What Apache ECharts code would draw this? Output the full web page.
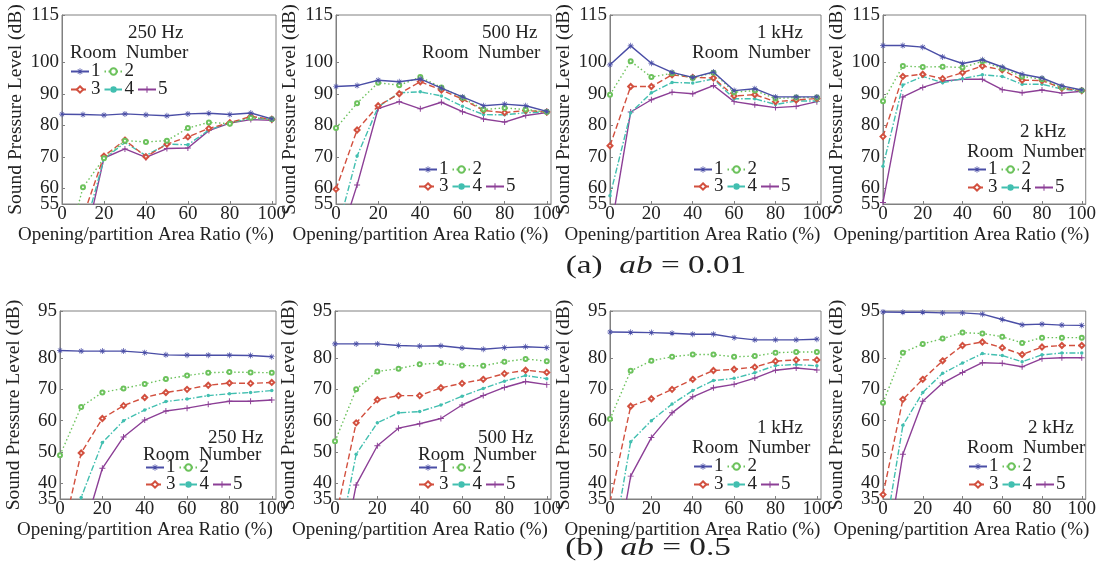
<!DOCTYPE html>
<html>
<head>
<meta charset="utf-8">
<script src="https://cdn.jsdelivr.net/npm/echarts@6/dist/echarts.min.js"></script>
<style>
  html, body { margin: 0; padding: 0; background: #fff; }
  #chart { width: 1099px; height: 581px; }
</style>
</head>
<body>
<div id="chart"></div>
<script>
// x positions (opening/partition area ratio, %)
var ratio = [0, 10, 20, 30, 40, 50, 60, 70, 80, 90, 100];
var xTicks = [0, 20, 40, 60, 80, 100];
var yTicksA = [55, 60, 70, 80, 90, 100, 115];
var yTicksB = [35, 40, 50, 60, 70, 80, 95];
var freqs = ['250 Hz', '500 Hz', '1 kHz', '2 kHz'];
var rooms = ['1', '2', '3', '4', '5'];

// (a) ab = 0.01, rooms 1..5
var a250 = [
  [83.5, 83.4, 83.2, 83.6, 83.3, 83.0, 83.6, 83.8, 83.4, 83.9, 82.0],
  [35, 60.3, 69.5, 75.1, 74.7, 75.1, 79.1, 80.9, 80.5, 82.4, 81.9],
  [25, 51, 70.2, 75.3, 70.0, 74.0, 76.3, 79.0, 80.8, 82.8, 81.9],
  [20, 45, 69.3, 74.5, 70.4, 74.0, 73.8, 78.5, 80.8, 82.2, 82.0],
  [15, 40, 69.6, 72.5, 69.8, 72.6, 72.8, 78.3, 80.7, 81.8, 81.6]
];
var a500 = [
  [92.3, 92.6, 94.3, 93.8, 94.7, 91.8, 89.0, 86.2, 86.7, 86.2, 84.4],
  [79.1, 87.0, 93.5, 92.7, 95.3, 92.0, 88.7, 85.0, 85.5, 85.0, 84.2],
  [59.7, 78.5, 86.2, 90.0, 93.8, 91.2, 88.3, 84.7, 84.0, 84.7, 84.2],
  [45, 70.2, 85.8, 90.3, 90.6, 89.3, 86.0, 83.4, 83.3, 84.0, 84.2],
  [40, 61.0, 85.3, 87.5, 85.2, 87.3, 84.3, 82.0, 81.0, 83.1, 84.0]
];
var a1k = [
  [99.2, 105.2, 99.7, 96.8, 95.2, 96.9, 91.0, 91.6, 89.0, 89.0, 89.0],
  [89.7, 100.3, 95.3, 96.5, 95.0, 96.7, 90.5, 91.0, 88.5, 88.8, 88.8],
  [73.5, 92.3, 92.3, 96.0, 95.2, 95.0, 89.3, 89.7, 87.5, 88.0, 88.5],
  [57.6, 84.0, 90.3, 93.6, 93.4, 94.7, 88.4, 88.4, 86.6, 87.7, 87.7],
  [45, 84.2, 88.1, 90.5, 90.0, 92.6, 87.5, 86.5, 85.6, 86.0, 87.5]
];
var a2k = [
  [105.3, 105.3, 104.8, 101.7, 99.6, 100.8, 98.5, 96.2, 95.0, 92.5, 91.2],
  [87.6, 98.8, 98.5, 98.6, 98.3, 100.3, 98.0, 95.5, 94.6, 92.0, 91.0],
  [76.4, 95.5, 96.2, 94.8, 96.7, 98.8, 97.6, 94.3, 94.2, 91.8, 91.0],
  [67.0, 92.8, 95.5, 93.5, 94.8, 96.0, 95.5, 93.0, 93.0, 91.5, 90.8],
  [55.5, 89.0, 92.0, 94.0, 94.6, 94.6, 91.3, 90.3, 91.2, 90.2, 90.8]
];
// (b) ab = 0.5, rooms 1..5
var b250 = [
  [82.4, 82.2, 82.2, 82.2, 81.7, 81.0, 80.9, 80.9, 80.9, 80.8, 80.4],
  [49.0, 64.4, 69.0, 70.3, 71.7, 73.3, 74.4, 75.3, 75.5, 75.4, 75.3],
  [20, 49.7, 60.7, 64.8, 67.4, 69.0, 70.0, 71.3, 72.0, 71.9, 72.2],
  [5, 35.5, 53.0, 60.0, 63.4, 66.1, 66.9, 68.0, 68.6, 69.0, 69.6],
  [0, 22, 44.8, 54.8, 60.2, 63.1, 64.0, 65.2, 66.2, 66.2, 66.6]
];
var b500 = [
  [84.5, 84.5, 84.5, 84.0, 83.8, 83.9, 83.2, 82.8, 83.3, 83.6, 83.3],
  [53.4, 70.0, 75.7, 76.6, 78.0, 78.4, 77.6, 77.5, 78.8, 79.7, 79.0],
  [28, 59.3, 66.7, 68.0, 68.0, 70.5, 71.9, 73.2, 75.0, 76.1, 75.4],
  [15, 49.3, 59.3, 62.5, 62.9, 65.0, 67.8, 70.3, 72.6, 74.4, 73.4],
  [5, 39.5, 52.0, 57.6, 59.0, 60.7, 65.0, 68.0, 70.6, 72.5, 71.5]
];
var b1k = [
  [88.3, 88.2, 88.1, 87.9, 87.6, 87.6, 86.5, 85.8, 85.8, 85.8, 86.0],
  [60.5, 75.9, 79.1, 80.4, 81.1, 81.1, 80.4, 80.6, 81.7, 81.9, 81.9],
  [34, 64.6, 67.0, 70.0, 73.2, 76.0, 76.4, 77.1, 79.0, 79.4, 79.4],
  [15, 53.3, 60.0, 65.3, 69.6, 72.8, 73.5, 75.3, 77.6, 77.9, 77.5],
  [5, 42.3, 54.6, 62.5, 67.6, 70.5, 71.6, 73.6, 76.1, 76.8, 76.2]
];
var b2k = [
  [94.7, 94.6, 94.6, 94.4, 94.4, 94.0, 92.3, 90.6, 90.8, 90.5, 90.4],
  [65.7, 81.7, 84.5, 86.2, 88.1, 87.8, 86.8, 84.8, 86.5, 86.5, 86.5],
  [36.4, 66.8, 73.2, 79.1, 84.0, 85.1, 83.3, 81.1, 83.5, 84.0, 84.0],
  [20, 58.5, 69.0, 75.1, 78.4, 81.4, 80.8, 78.8, 81.0, 81.6, 81.6],
  [10, 49.3, 66.2, 72.0, 75.4, 78.5, 78.3, 77.2, 79.8, 80.1, 80.1]
];

var panels = [a250, a500, a1k, a2k, b250, b500, b1k, b2k];

var FONT = '"Liberation Serif", "Times New Roman", serif';
var colors = ['#4a4ea6', '#6cc25c', '#d2503f', '#42bfb0', '#8c3f96'];
var lineTypes = ['solid', [1.5, 2.5], [6, 3], [6, 2, 1.5, 2], 'solid'];
var asterisk = 'path://M-0.6,-5L0.6,-5L0.6,5L-0.6,5Z M-5,-0.6L5,-0.6L5,0.6L-5,0.6Z M-3.9,-3.1L-3.1,-3.9L3.9,3.1L3.1,3.9Z M3.1,-3.9L3.9,-3.1L-3.1,3.9L-3.9,3.1Z';
var plus = 'path://M-0.8,-5L0.8,-5L0.8,5L-0.8,5Z M-5,-0.8L5,-0.8L5,0.8L-5,0.8Z';
var symbols = [asterisk, 'emptyCircle', 'emptyDiamond', 'circle', plus];
var symbolSizes = [6, 4, 5, 3.5, 6];
var borderWidths = [0, 1, 1, 0, 0];

// panel boxes [left, right, top, bottom]
var boxes = [
  [62, 276, 15, 204], [336, 551, 15, 204], [610, 821, 15, 204], [883, 1093, 15, 204],
  [60, 276, 311, 499], [335, 551, 311, 499], [610, 821, 311, 499], [883, 1093, 311, 499]
];
// legend: [left, row1 center y, row2 center y]
var legendPos = [
  [70, 72, 90], [418, 170, 187], [693, 170, 187], [967, 170, 188],
  [145, 468, 485], [418, 468, 485], [693, 467, 485], [968, 467, 485]
];
// labels: [freq x, freq y, room x, room y]
var labelPos = [
  [128, 33, 70, 53], [482, 33, 422, 53], [757, 33, 692, 53], [1020, 132, 967, 152],
  [208, 438, 143, 455], [478, 438, 418, 455], [757, 428, 692, 448], [1028, 428, 967, 448]
];

var grids = [], xAxes = [], yAxes = [], series = [], legends = [], graphics = [];
var labelStyle = { fontFamily: FONT, fontSize: 19, color: '#222' };

boxes.forEach(function (b, p) {
  var isTop = p < 4;
  var yt = isTop ? yTicksA : yTicksB;
  grids.push({
    left: b[0], top: b[2], width: b[1] - b[0], height: b[3] - b[2],
    show: true, borderColor: '#808080', borderWidth: 1, backgroundColor: '#fff'
  });
  xAxes.push({
    type: 'value', gridIndex: p, min: 0, max: 102,
    name: 'Opening/partition Area Ratio (%)', nameLocation: 'middle', nameGap: 22,
    nameTextStyle: { fontFamily: FONT, fontSize: 19, color: '#222', padding: [0, 46, 0, 0] },
    axisLine: { show: true, lineStyle: { color: '#808080' } },
    axisTick: { inside: true, length: 3, customValues: xTicks, lineStyle: { color: '#808080' } },
    axisLabel: Object.assign({ customValues: xTicks, margin: 1, hideOverlap: false }, labelStyle),
    splitLine: { show: false }
  });
  yAxes.push({
    type: 'value', gridIndex: p, min: yt[0], max: yt[yt.length - 1],
    name: 'Sound Pressure Level (dB)', nameLocation: 'middle', nameGap: 36,
    nameTextStyle: { fontFamily: FONT, fontSize: 19.5, color: '#222' },
    axisLine: { show: true, lineStyle: { color: '#808080' } },
    axisTick: { inside: true, length: 3, customValues: yt, lineStyle: { color: '#808080' } },
    axisLabel: Object.assign({ customValues: yt.slice(1), margin: 3, hideOverlap: false }, labelStyle),
    splitLine: { show: false }
  });
  panels[p].forEach(function (vals, s) {
    series.push({
      type: 'line', name: rooms[s], xAxisIndex: p, yAxisIndex: p,
      data: ratio.map(function (x, i) { return [x, vals[i]]; }),
      clip: true,
      symbol: symbols[s], symbolSize: symbolSizes[s], showAllSymbol: true,
      itemStyle: { color: colors[s], borderColor: colors[s], borderWidth: borderWidths[s] },
      lineStyle: { color: colors[s], width: 1.4, type: lineTypes[s] },
      emphasis: { disabled: true },
      animation: false,
      z: 10 - s
    });
  });
  var lp = legendPos[p];
  [[rooms[0], rooms[1]], [rooms[2], rooms[3], rooms[4]]].forEach(function (names, r) {
    legends.push({
      data: names, left: lp[0], top: lp[1 + r] - 10, padding: 0,
      itemWidth: 18, itemHeight: 8, itemGap: 3, orient: 'horizontal',
      selectedMode: false,
      textStyle: { fontFamily: FONT, fontSize: 19, color: '#222', padding: [0, 0, 0, -3] }
    });
  });
  var tp = labelPos[p];
  graphics.push({
    type: 'text', x: tp[0], y: tp[1],
    style: { text: freqs[p % 4], font: '19px ' + FONT, fill: '#222', verticalAlign: 'middle' }
  });
  graphics.push({
    type: 'text', x: tp[2], y: tp[3],
    style: { text: 'Room  Number', font: '19px ' + FONT, fill: '#222', verticalAlign: 'middle' }
  });
});

// second y axis per panel carrying only the bottom tick label (55 / 35),
// so it is not dropped for touching the next label
boxes.forEach(function (b, p) {
  var yt = p < 4 ? yTicksA : yTicksB;
  yAxes.push({
    type: 'value', gridIndex: p, position: 'left', min: yt[0], max: yt[yt.length - 1],
    axisLine: { show: false }, axisTick: { show: false }, splitLine: { show: false },
    axisLabel: Object.assign({ customValues: [yt[0]], margin: 3 }, labelStyle)
  });
});

// figure captions, stretched horizontally like the source figure
var titleRich = {
  i: { fontFamily: FONT, fontSize: 26, fontStyle: 'italic', fill: '#222' }
};
[['(a)  {i|ab} = 0.01', 656, 266], ['(b)  {i|ab} = 0.5', 648, 548]].forEach(function (c) {
  graphics.push({
    type: 'text', x: c[1], y: c[2], scaleX: 1.28,
    style: { text: c[0], font: '26px ' + FONT, fill: '#222', align: 'center', verticalAlign: 'middle', rich: titleRich }
  });
});

var myChart = echarts.init(document.getElementById('chart'), null, { renderer: 'canvas' });
myChart.setOption({
  backgroundColor: '#fff',
  animation: false,
  grid: grids,
  xAxis: xAxes,
  yAxis: yAxes,
  legend: legends,
  graphic: graphics,
  series: series
});
</script>
</body>
</html>
